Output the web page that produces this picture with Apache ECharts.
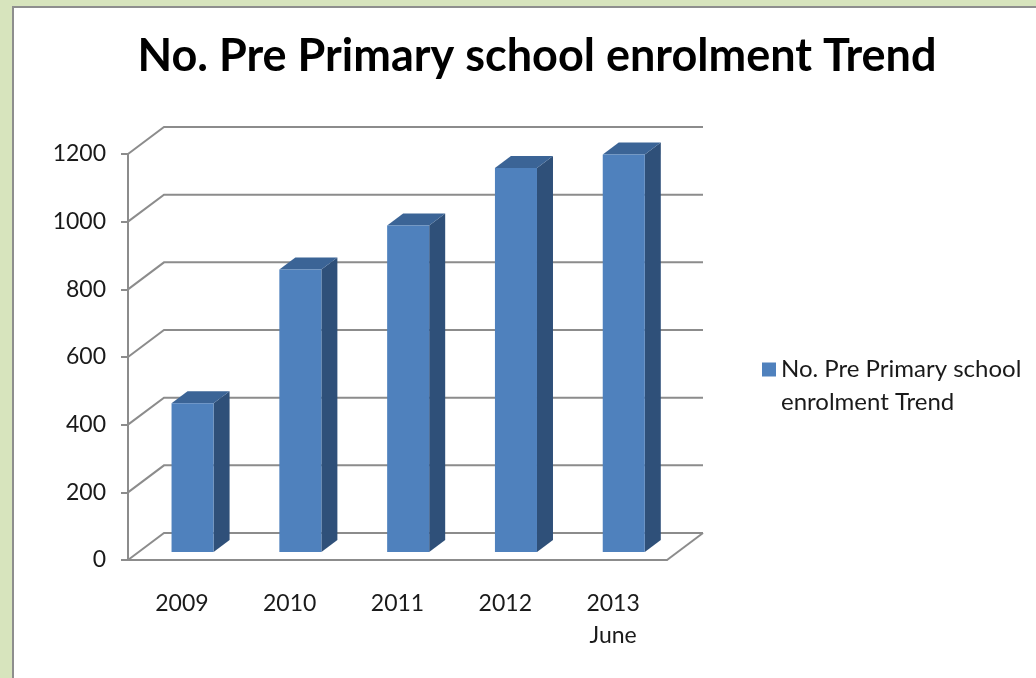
<!DOCTYPE html>
<html><head><meta charset="utf-8">
<script src="https://cdn.jsdelivr.net/npm/echarts@6/dist/echarts.min.js"></script>
<style>html,body{margin:0;padding:0;background:#d7e4bd;}#c{width:1036px;height:678px;}</style>
</head><body><div id="c"></div>
<script>
const categories = ['2009', '2010', '2011', '2012', '2013\nJune'];
const enrolment = [440, 835, 965, 1135, 1175];
const yTicks = [0, 200, 400, 600, 800, 1000, 1200];
const seriesName = 'No. Pre Primary school enrolment Trend';
const legendLines = ['No. Pre Primary school', 'enrolment Trend'];

const FONT = 'Lato';
const DEPTH_X = 36, DEPTH_Y = 27;          // back wall offset
const BAR_FRONT = 8 / 27, BAR_BACK = 20 / 27; // bar depth range fraction
const BAR_W = 0.39;                           // fraction of category band

const chart = echarts.init(document.getElementById('c'), null, {renderer: 'canvas'});

function gridRender(params, api) {
  const v = api.value(1);
  const band = api.size([1, 0])[0];
  const pl = api.coord([0, v]);
  const pr = api.coord([categories.length - 1, v]);
  const xl = pl[0] - band / 2, xr = pr[0] + band / 2, y = pl[1];
  const children = [{
    type: 'polyline',
    shape: {points: [[xl, y], [xl + DEPTH_X, y - DEPTH_Y], [xr + DEPTH_X, y - DEPTH_Y]]},
    style: {stroke: '#8c8c8c', lineWidth: 2, fill: null}
  }];
  if (v === 0) {
    children.push({
      type: 'line',
      shape: {x1: xr, y1: y, x2: xr + DEPTH_X, y2: y - DEPTH_Y},
      style: {stroke: '#8c8c8c', lineWidth: 2}
    });
  }
  return {type: 'group', children: children};
}

function barRender(params, api) {
  const idx = api.value(0), v = api.value(1);
  const band = api.size([1, 0])[0];
  const p0 = api.coord([idx, 0]);
  const p1 = api.coord([idx, v]);
  const w = band * BAR_W;
  const fx = DEPTH_X * BAR_FRONT, fy = DEPTH_Y * BAR_FRONT;
  const dx = DEPTH_X * (BAR_BACK - BAR_FRONT), dy = DEPTH_Y * (BAR_BACK - BAR_FRONT);
  const x0 = p0[0] - w / 2 + fx, x1 = x0 + w;
  const yb = p0[1] - fy, yt = p1[1] - fy;
  return {type: 'group', children: [
    {type: 'polygon', shape: {points: [[x1, yb], [x1, yt], [x1 + dx, yt - dy], [x1 + dx, yb - dy]]},
      style: {fill: '#2f5079'}},
    {type: 'polygon', shape: {points: [[x0, yt], [x1, yt], [x1 + dx, yt - dy], [x0 + dx, yt - dy]]},
      style: {fill: '#3b6496'}},
    {type: 'rect', shape: {x: x0, y: yt, width: w, height: yb - yt},
      style: {fill: '#4f81bd'}}
  ]};
}

chart.setOption({
  animation: false,
  backgroundColor: '#d7e4bd',
  color: ['#4f81bd'],
  graphic: [{
    type: 'rect', z: -10, silent: true,
    shape: {x: 13, y: 7, width: 1100, height: 800},
    style: {fill: '#ffffff', stroke: '#8e8e8e', lineWidth: 2}
  }],
  title: {
    text: 'No. Pre Primary school enrolment Trend',
    left: 532, top: 29, textAlign: 'center',
    textStyle: {fontFamily: FONT, fontWeight: 'bold', fontSize: 45, color: '#000'}
  },
  legend: {
    left: 757, top: 315,
    data: [{name: seriesName, icon: 'rect'}],
    itemWidth: 14, itemHeight: 14, itemGap: 0,
    formatter: function () { return ' \n' + legendLines.join('\n'); },
    textStyle: {fontFamily: FONT, fontSize: 24, color: '#1a1a1a', lineHeight: 33}
  },
  grid: {left: 128, top: 154, width: 539, height: 406},
  xAxis: {
    type: 'category', data: categories, boundaryGap: true,
    axisLine: {lineStyle: {color: '#8c8c8c', width: 2}},
    axisTick: {length: 8, lineStyle: {color: '#8c8c8c', width: 2}},
    axisLabel: {margin: 28, fontFamily: FONT, fontSize: 23, lineHeight: 32, color: '#1a1a1a'},
    splitLine: {show: false}
  },
  yAxis: {
    type: 'value', min: 0, max: 1200, interval: 200,
    axisLine: {show: true, lineStyle: {color: '#8c8c8c', width: 2}},
    axisTick: {show: true, length: 7, lineStyle: {color: '#8c8c8c', width: 2}},
    axisLabel: {margin: 22, fontFamily: FONT, fontSize: 23, color: '#1a1a1a',
      formatter: function (v) { return String(v); }},
    splitLine: {show: false}
  },
  series: [
    {
      type: 'custom', name: 'grid', silent: true, clip: false, z: 1,
      renderItem: gridRender,
      data: yTicks.map(v => [0, v])
    },
    {
      type: 'custom', name: seriesName, clip: false, z: 5,
      renderItem: barRender,
      encode: {x: 0, y: 1},
      itemStyle: {color: '#4f81bd'},
      data: enrolment.map((v, i) => [i, v])
    }
  ]
});
</script></body></html>
